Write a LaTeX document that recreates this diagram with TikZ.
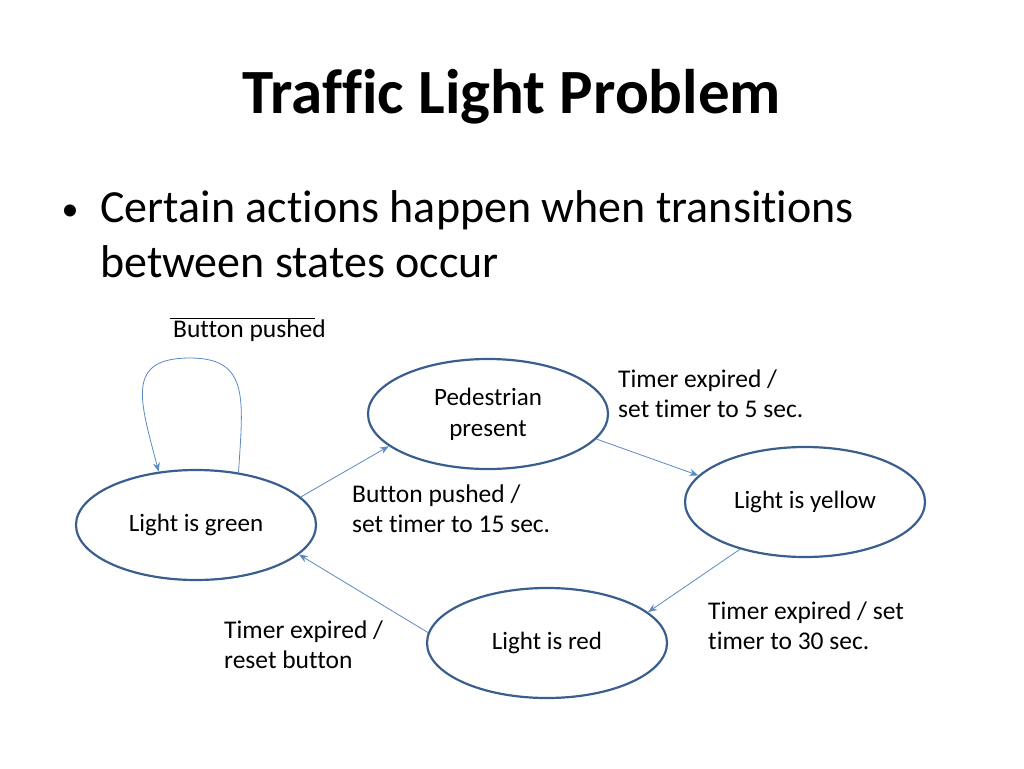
\documentclass[tikz,border=0pt]{standalone}
\usepackage{fontspec}
\setmainfont[Ligatures={NoCommon}]{Carlito}
\usetikzlibrary{arrows.meta,shapes.geometric}
\begin{document}
\begin{tikzpicture}[x=1pt,y=-1pt,
  st/.style={draw=stc,line width=2.2pt,ellipse,inner sep=0pt,minimum width=240pt,minimum height=110pt,font=\fontsize{25}{31}\selectfont,align=center},
  tr/.style={draw=arc,line width=0.8pt,-{Stealth[length=9pt,width=7pt]}},
  lb/.style={font=\fontsize{25.5}{30}\selectfont,align=left,anchor=north west,inner sep=0pt}]
\definecolor{stc}{HTML}{3A5F8E}
\definecolor{arc}{HTML}{5A8AC0}
\useasboundingbox (0,0) rectangle (1024,768);
\node[font=\fontsize{63}{66}\selectfont\bfseries] (title) at (512,97) {Traffic Light Problem};
\node[font=\fontsize{46}{55}\selectfont,anchor=north west,align=left,inner sep=0pt] (bul) at (100,190) {Certain actions happen when transitions\\between states occur};
\node[font=\fontsize{34}{40}\selectfont,inner sep=0pt] (dot) at (70,213) {•};
\node[st] (ped) at (488,414) {Pedestrian\\present};
\node[st] (yel) at (805,502) {Light is yellow};
\node[st] (grn) at (196,525) {Light is green};
\node[st] (red) at (547,643) {Light is red};
\draw[tr] (grn.15) -- (ped.198);
\draw[tr] (ped.-13) -- (yel.166);
\draw[tr] (yel.216) -- (red.17);
\draw[tr] (red.175) -- (grn.-16);
\draw[tr] (grn.51) .. controls (243,400) and (250,358) .. (190,358) .. controls (125,358) and (140,400) .. (grn.125);
\node[lb] (l0) at (173,320) {Button pushed};
\draw[line width=0.6pt] (170,318) -- (315,318);
\node[lb] (l1) at (618,370) {Timer expired /\\set timer to 5 sec.};
\node[lb] (l2) at (352,485) {Button pushed /\\set timer to 15 sec.};
\node[lb] (l3) at (708,602) {Timer expired / set\\timer to 30 sec.};
\node[lb] (l4) at (224,621) {Timer expired /\\reset button};
\end{tikzpicture}
\end{document}
